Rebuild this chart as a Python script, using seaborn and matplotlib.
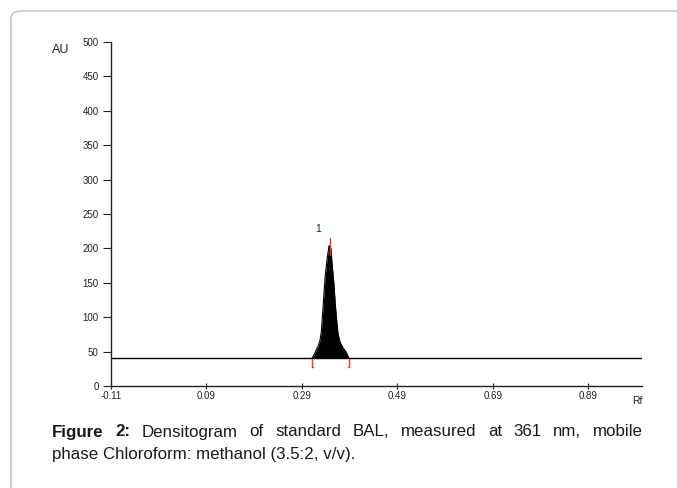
import matplotlib
matplotlib.use('Agg')
from matplotlib import pyplot as plt
from matplotlib.patches import FancyBboxPatch
import seaborn as sns
import numpy as np
import pandas as pd

# baseline of the densitogram
base_rf = [-0.11, 1.003]
base_au = [40, 40]

# peak 1 profile (Rf, AU)
peak_rf = [0.311, 0.316, 0.320, 0.324, 0.328, 0.331, 0.333, 0.336, 0.339, 0.343, 0.347,
           0.351, 0.353, 0.357, 0.360, 0.363, 0.366, 0.370, 0.376, 0.383, 0.389]
peak_au = [40, 46, 52, 58, 66, 80, 100, 130, 160, 185, 204,
           200, 180, 150, 120, 95, 75, 64, 56, 49, 40]

peak_label = '1'
peak_max_rf = 0.348
peak_start_rf = 0.311
peak_end_rf = 0.389

xticks = [-0.11, 0.09, 0.29, 0.49, 0.69, 0.89]
yticks = [0, 50, 100, 150, 200, 250, 300, 350, 400, 450, 500]

caption1 = ['Figure', '2:', 'Densitogram', 'of', 'standard', 'BAL,', 'measured', 'at', '361', 'nm,', 'mobile']
caption2 = 'phase Chloroform: methanol (3.5:2, v/v).'

sns.set_style('white')
plt.rcParams['font.family'] = ['Liberation Sans', 'DejaVu Sans']

W, H = 677, 488
fig = plt.figure(figsize=(W / 100, H / 100), dpi=100)

# rounded frame of the figure box
frame = FancyBboxPatch((11 / W, -0.1), 1.2, 1 - 11 / H + 0.1, boxstyle='round,pad=0,rounding_size=0.015',
                       transform=fig.transFigure, facecolor='white', edgecolor='#c8c8c8', linewidth=1.2,
                       zorder=-5)
fig.patches.append(frame)

ax = fig.add_axes([111 / W, 1 - 386 / H, (642 - 111) / W, (386 - 42) / H])
ax.set_facecolor('none')

peakDf = pd.DataFrame({'Rf': peak_rf, 'AU': peak_au})
baseDf = pd.DataFrame({'Rf': base_rf, 'AU': base_au})

sns.lineplot(data=baseDf, x='Rf', y='AU', color='black', linewidth=1.0, ax=ax)
sns.lineplot(data=peakDf, x='Rf', y='AU', color='black', linewidth=0.8, ax=ax, sort=False)
ax.fill_between(peak_rf, peak_au, base_au[0], color='black', linewidth=0)

# red integration markers
ax.plot([peak_max_rf, peak_max_rf], [190, 215], color='#ff2a2a', linewidth=1.0)
for r, d in [(peak_start_rf, 1), (peak_end_rf, -1)]:
    ax.plot([r, r], [39, 27], color='#ff2a2a', linewidth=1.0)
    ax.plot([r, r + d * 0.003], [27, 27], color='#ff2a2a', linewidth=1.0)

ax.text(0.324, 228, peak_label, fontsize=7.5, ha='center', va='center', color='#222222')

ax.set_xlim(-0.11, 1.003)
ax.set_ylim(0, 500)
ax.set_xticks(xticks)
ax.set_xticklabels(['%.2f' % v for v in xticks])
ax.set_yticks(yticks)
ax.set_xlabel('')
ax.set_ylabel('')
ax.tick_params(axis='x', bottom=True, direction='inout', length=5, width=0.8, labelsize=7, pad=1,
               colors='#222222')
ax.tick_params(axis='y', left=True, direction='out', length=6, width=0.8, labelsize=7, pad=3,
               colors='#222222')
sns.despine(ax=ax)
for s in ['left', 'bottom']:
    ax.spines[s].set_color('#222222')
    ax.spines[s].set_linewidth(1.0)

fig.text(61 / W, 1 - 50 / H, 'AU', fontsize=9, ha='center', va='center', color='#222222')
fig.text(637 / W, 1 - 401 / H, 'Rf', fontsize=7.5, ha='center', va='center', color='#222222')

# justified caption first line
renderer = fig.canvas.get_renderer()
size = 12.2
texts = []
for i, w in enumerate(caption1):
    t = fig.text(0, 1 - 436.5 / H, w, fontsize=size, fontweight='bold' if i < 2 else 'normal',
                 ha='left', va='baseline', color='#1a1a1a')
    texts.append(t)
widths = [t.get_window_extent(renderer).width for t in texts]
x0, x1 = 52, 643
gap = ((x1 - x0) - sum(widths)) / (len(caption1) - 1)
x = x0
for t, w in zip(texts, widths):
    t.set_x(x / W)
    x += w + gap
fig.text(x0 / W, 1 - 459 / H, caption2, fontsize=size, ha='left', va='baseline', color='#1a1a1a')

plt.savefig('out.png', dpi=100)
plt.close()
